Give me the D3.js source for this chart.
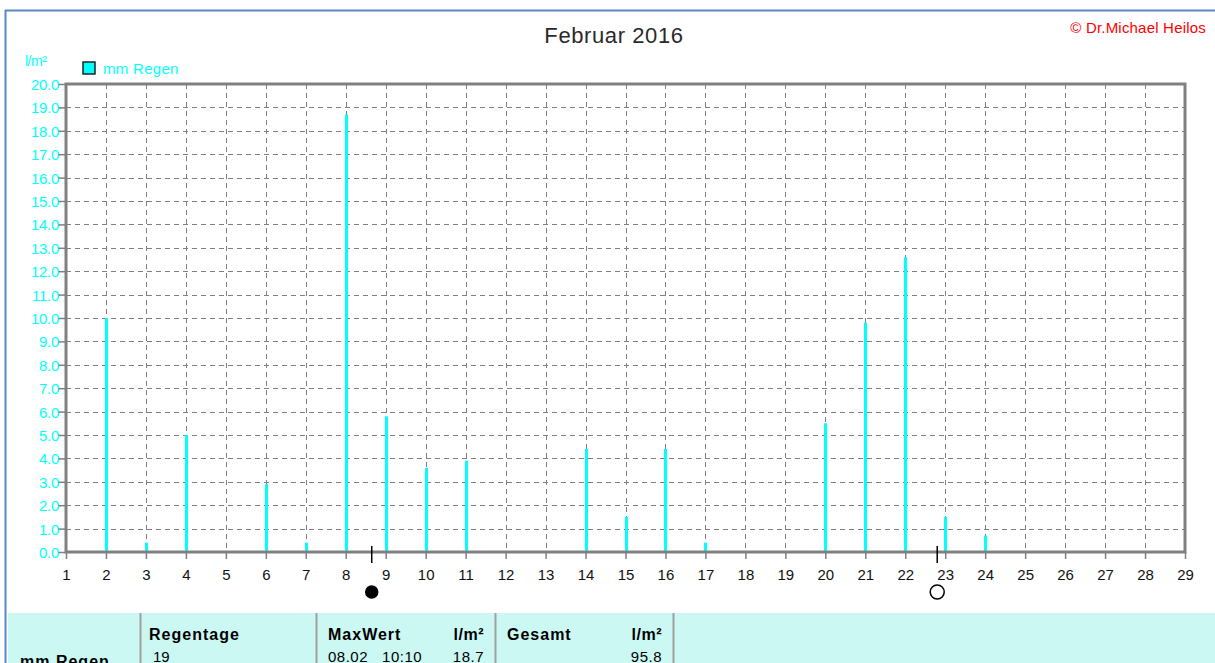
<!DOCTYPE html>
<html>
<head>
<meta charset="utf-8">
<script src="https://cdn.jsdelivr.net/npm/d3@7"></script>
<style>
  body { margin: 0; background: #fff; }
  svg { display: block; font-family: "Liberation Sans", Arial, sans-serif; }
</style>
</head>
<body>
<svg id="chart" width="1215" height="663"></svg>
<script>
// rain per day, Februar 2016 (l/m²)
var days = [2, 3, 4, 6, 7, 8, 9, 10, 11, 14, 15, 16, 17, 20, 21, 22, 23, 24];
var rain = [10.0, 0.4, 5.0, 2.9, 0.4, 18.7, 5.8, 3.6, 3.9, 4.4, 1.5, 4.4, 0.4, 5.5, 9.8, 12.6, 1.5, 0.7];
var xTicks = d3.range(1, 30);
var yTicks = d3.range(0, 20.01, 1);
var moonPhases = [{day: 8.65, type: "new"}, {day: 22.8, type: "full"}];
var tableCols = [
  {head: "Regentage", unit: "", value: "19", extra: ""},
  {head: "MaxWert", unit: "l/m²", value: "18.7", extra: "08.02   10:10"},
  {head: "Gesamt", unit: "l/m²", value: "95.8", extra: ""}
];

var svg = d3.select("#chart");
var margin = {top: 84, left: 66, right: 30, bottom: 111};
var width = 1185 - margin.left;
var height = 552 - margin.top;

var x = d3.scaleLinear().domain([1, 29]).range([0, width]);
var y = d3.scaleLinear().domain([0, 20]).range([height, 0]);

// outer blue border
svg.append("line").attr("x1", 5).attr("x2", 1215).attr("y1", 10.5).attr("y2", 10.5)
  .attr("stroke", "#5b86c9").attr("stroke-width", 2);
svg.append("line").attr("x1", 5.5).attr("x2", 5.5).attr("y1", 10).attr("y2", 663)
  .attr("stroke", "#5b86c9").attr("stroke-width", 2);

svg.append("text").attr("x", 614).attr("y", 43).attr("text-anchor", "middle")
  .attr("font-size", 22).attr("letter-spacing", 0.6).attr("fill", "#2a2a2a").text("Februar 2016");

svg.append("text").attr("x", 1206).attr("y", 33).attr("text-anchor", "end")
  .attr("font-size", 15).attr("letter-spacing", 0.2).attr("fill", "#ff0000").text("© Dr.Michael Heilos");

svg.append("text").attr("x", 25).attr("y", 66)
  .attr("font-size", 14).attr("fill", "#00ffff").attr("letter-spacing", -0.5).text("l/m²");

// legend
svg.append("rect").attr("x", 83).attr("y", 62).attr("width", 12).attr("height", 12)
  .attr("fill", "#00ffff").attr("stroke", "#222").attr("stroke-width", 1.5);
svg.append("text").attr("x", 103).attr("y", 74)
  .attr("font-size", 15).attr("letter-spacing", 0.3).attr("fill", "#00ffff").text("mm Regen");

var g = svg.append("g").attr("transform", "translate(" + margin.left + "," + margin.top + ")");

// grid
g.selectAll(".hgrid").data(yTicks.slice(1, -1)).enter().append("line")
  .attr("x1", 0).attr("x2", width)
  .attr("y1", function(d) { return Math.round(y(d)) + 0.5; })
  .attr("y2", function(d) { return Math.round(y(d)) + 0.5; })
  .attr("stroke", "#808080").attr("stroke-dasharray", "5,4");
g.selectAll(".vgrid").data(xTicks.slice(1, -1)).enter().append("line")
  .attr("x1", function(d) { return Math.round(x(d)) + 0.5; })
  .attr("x2", function(d) { return Math.round(x(d)) + 0.5; })
  .attr("y1", 0).attr("y2", height)
  .attr("stroke", "#808080").attr("stroke-dasharray", "5,4");

// bars
g.selectAll(".bar").data(days).enter().append("rect")
  .attr("x", function(d) { return Math.round(x(d)) - 1; })
  .attr("y", function(d, i) { return y(rain[i]); })
  .attr("width", 3)
  .attr("height", function(d, i) { return height - y(rain[i]); })
  .attr("fill", "#00ffff");

// axes
var yAxis = g.append("g").call(d3.axisLeft(y).tickValues(yTicks).tickSize(8)
  .tickFormat(d3.format(".1f")));
yAxis.select(".domain").remove();
yAxis.selectAll(".tick line").attr("stroke", "#808080").attr("stroke-width", 1.5);
yAxis.selectAll(".tick text").attr("fill", "#00ffff").attr("font-size", 15)
  .attr("x", -7).attr("dy", "0.36em").attr("letter-spacing", -0.3);

var xAxis = g.append("g").attr("transform", "translate(0," + height + ")")
  .call(d3.axisBottom(x).tickValues(xTicks).tickSize(7).tickFormat(d3.format("d")));
xAxis.select(".domain").remove();
xAxis.selectAll(".tick line").attr("stroke", "#808080").attr("stroke-width", 1.5);
xAxis.selectAll(".tick text").attr("fill", "#111").attr("font-size", 15).attr("y", 17);

// frame
g.append("rect").attr("x", 0).attr("y", 0).attr("width", width).attr("height", height)
  .attr("fill", "none").attr("stroke", "#808080").attr("stroke-width", 3);

// moon phases
var moon = g.selectAll(".moon").data(moonPhases).enter().append("g")
  .attr("transform", function(d) { return "translate(" + x(d.day) + "," + height + ")"; });
moon.append("line").attr("y1", -6).attr("y2", 11).attr("stroke", "#000").attr("stroke-width", 1.5);
moon.append("circle").attr("cy", 40).attr("r", function(d) { return d.type == "new" ? 6 : 7; })
  .attr("fill", function(d) { return d.type == "new" ? "#000" : "#fff"; })
  .attr("stroke", "#000").attr("stroke-width", 1.5);

// statistics table
var ty = 613;
svg.append("rect").attr("x", 8).attr("y", ty).attr("width", 1207).attr("height", 663 - ty)
  .attr("fill", "#ccf8f4");
var dividers = [140, 316, 495, 673];
svg.selectAll(".div").data(dividers).enter().append("line")
  .attr("x1", function(d) { return d + 0.5; }).attr("x2", function(d) { return d + 0.5; })
  .attr("y1", ty).attr("y2", 663).attr("stroke", "#a0a0a0").attr("stroke-width", 2);

svg.append("text").attr("x", 20).attr("y", 667).attr("font-size", 16).attr("letter-spacing", 1)
  .attr("font-weight", "bold").attr("fill", "#000").text("mm Regen");

tableCols.forEach(function(c, i) {
  var left = dividers[i] + (i == 0 ? 9 : 12);
  var right = dividers[i + 1] - 11;
  svg.append("text").attr("x", left).attr("y", 640).attr("font-size", 16).attr("letter-spacing", 1)
    .attr("font-weight", "bold").attr("fill", "#000").text(c.head);
  if (c.unit) {
    svg.append("text").attr("x", right).attr("y", 640).attr("text-anchor", "end")
      .attr("font-size", 16).attr("letter-spacing", 0.5).attr("font-weight", "bold")
      .attr("fill", "#000").text(c.unit);
  }
  if (c.extra) {
    svg.append("text").attr("x", left).attr("y", 662).attr("font-size", 15)
      .attr("letter-spacing", 0.5).attr("fill", "#000").attr("xml:space", "preserve").text(c.extra);
    svg.append("text").attr("x", right).attr("y", 662).attr("text-anchor", "end")
      .attr("font-size", 15).attr("letter-spacing", 0.5).attr("fill", "#000").text(c.value);
  } else if (i == 0) {
    svg.append("text").attr("x", left + 4).attr("y", 662).attr("font-size", 15)
      .attr("fill", "#000").text(c.value);
  } else {
    svg.append("text").attr("x", right).attr("y", 662).attr("text-anchor", "end")
      .attr("font-size", 15).attr("letter-spacing", 0.5).attr("fill", "#000").text(c.value);
  }
});
</script>
</body>
</html>
